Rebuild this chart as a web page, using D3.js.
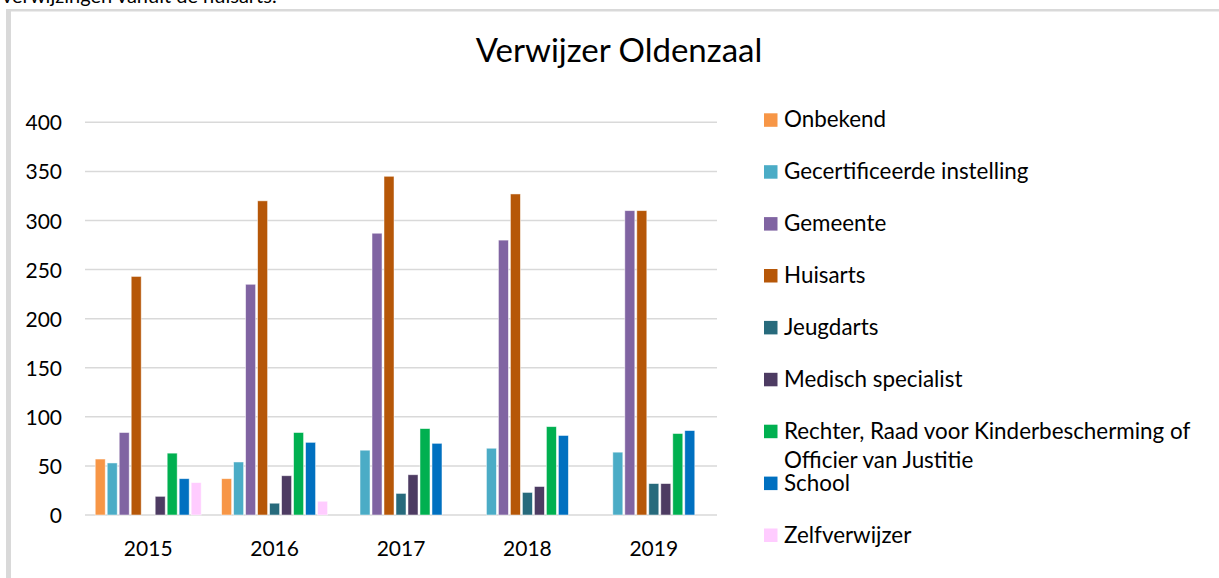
<!DOCTYPE html>
<html>
<head>
<meta charset="utf-8">
<script src="https://cdn.jsdelivr.net/npm/d3@7"></script>
<style>
  html, body { margin: 0; padding: 0; background: #ffffff; }
  svg { display: block; }
  text { font-family: Lato, "Open Sans", sans-serif; fill: #000; }
</style>
</head>
<body>
<svg id="chart" width="1219" height="578"></svg>
<script>
// Referral counts per source, Oldenzaal, 2015-2019
const years = ["2015", "2016", "2017", "2018", "2019"];
const sources = [
  "Onbekend",
  "Gecertificeerde instelling",
  "Gemeente",
  "Huisarts",
  "Jeugdarts",
  "Medisch specialist",
  "Rechter, Raad voor Kinderbescherming of Officier van Justitie",
  "School",
  "Zelfverwijzer"
];
const onbekend      = [57, 37, 0, 0, 0];
const gecertificeerd = [53, 54, 66, 68, 64];
const gemeente      = [84, 235, 287, 280, 310];
const huisarts      = [243, 320, 345, 327, 310];
const jeugdarts     = [0, 12, 22, 23, 32];
const medisch       = [19, 40, 41, 29, 32];
const rechter       = [63, 84, 88, 90, 83];
const school        = [37, 74, 73, 81, 86];
const zelfverwijzer = [33, 14, 0, 0, 0];
const yTicks = [0, 50, 100, 150, 200, 250, 300, 350, 400];

const seriesValues = [onbekend, gecertificeerd, gemeente, huisarts, jeugdarts,
                      medisch, rechter, school, zelfverwijzer];
const colors = ["#f79646", "#4bacc6", "#8064a2", "#b65708", "#276a7c",
                "#4d3b62", "#00b050", "#0070c0", "#ffccff"];

const svg = d3.select("#chart");

// frame of the surrounding document box
svg.append("rect").attr("x", 6).attr("y", 9).attr("width", 1213).attr("height", 2.5).attr("fill", "#d9d9d9");
svg.append("rect").attr("x", 6).attr("y", 9).attr("width", 5).attr("height", 569).attr("fill", "#d9d9d9");

// tail of the preceding sentence, clipped at the top of the view
svg.append("text").attr("x", 2).attr("y", 3).style("font-size", "20px")
  .text("verwijzingen vanuit de huisarts.");

// plot area
const plot = { left: 85, right: 717, top: 122.3, bottom: 515 };

const x0 = d3.scaleBand().domain(years).range([plot.left, plot.right])
  .paddingInner(0.146).paddingOuter(0.073);
const x1 = d3.scaleBand().domain(sources).range([0, x0.bandwidth()]).paddingInner(0.0);
const y = d3.scaleLinear().domain([0, 400]).range([plot.bottom, plot.top]);

// gridlines
svg.append("g").selectAll("line").data(yTicks).join("line")
  .attr("x1", plot.left).attr("x2", plot.right)
  .attr("y1", d => y(d)).attr("y2", d => y(d))
  .attr("stroke", "#d9d9d9").attr("stroke-width", 1.5);

// y axis labels
const yAxis = d3.axisLeft(y).tickValues(yTicks).tickSize(0).tickPadding(0);
const gy = svg.append("g").attr("transform", `translate(${plot.left - 23},0)`).call(yAxis);
gy.select(".domain").remove();
gy.selectAll("text").style("font-size", "21px").style("font-family", "Lato, sans-serif")
  .attr("fill", "#000").attr("dy", "0.36em");

// x axis labels
const xAxis = d3.axisBottom(x0).tickSize(0).tickPadding(0);
const gx = svg.append("g").attr("transform", `translate(0,${plot.bottom + 25})`).call(xAxis);
gx.select(".domain").remove();
gx.selectAll("text").style("font-size", "21px").style("font-family", "Lato, sans-serif")
  .attr("fill", "#000").attr("dy", "0.75em");

// bars
const groups = svg.append("g").selectAll("g").data(years).join("g")
  .attr("transform", d => `translate(${x0(d)},0)`);
groups.selectAll("rect")
  .data((yr, yi) => sources.map((s, si) => ({ s, si, v: seriesValues[si][yi] })).filter(d => d.v > 0))
  .join("rect")
  .attr("x", d => x1(d.s) + 1)
  .attr("width", x1.bandwidth() - 2)
  .attr("y", d => y(d.v))
  .attr("height", d => y(0) - y(d.v))
  .attr("fill", d => colors[d.si])
  .attr("stroke", "#ffffff").attr("stroke-opacity", 0.6).attr("stroke-width", 0.8);

// title
svg.append("text").attr("x", 619).attr("y", 62).attr("text-anchor", "middle")
  .style("font-size", "33px").text("Verwijzer Oldenzaal");

// legend: fixed row pitch; long entries wrap onto a second line
const legend = svg.append("g").attr("transform", "translate(764,113.3)");
const rowPitch = 51.9;
const legendLines = [
  ["Onbekend"], ["Gecertificeerde instelling"], ["Gemeente"], ["Huisarts"],
  ["Jeugdarts"], ["Medisch specialist"],
  ["Rechter, Raad voor Kinderbescherming of", "Officier van Justitie"],
  ["School"], ["Zelfverwijzer"]
];
const items = legend.selectAll("g").data(sources).join("g")
  .attr("transform", (d, i) => `translate(0,${i * rowPitch})`);
items.append("rect").attr("width", 13.5).attr("height", 13.5)
  .attr("fill", (d, i) => colors[i]);
items.append("text").attr("x", 20).attr("y", 14).style("font-size", "22.4px")
  .each(function (d, i) {
    const t = d3.select(this);
    legendLines[i].forEach((line, li) => {
      t.append("tspan").attr("x", 20).attr("dy", li === 0 ? 0 : 29.4).text(line);
    });
  });
</script>
</body>
</html>
